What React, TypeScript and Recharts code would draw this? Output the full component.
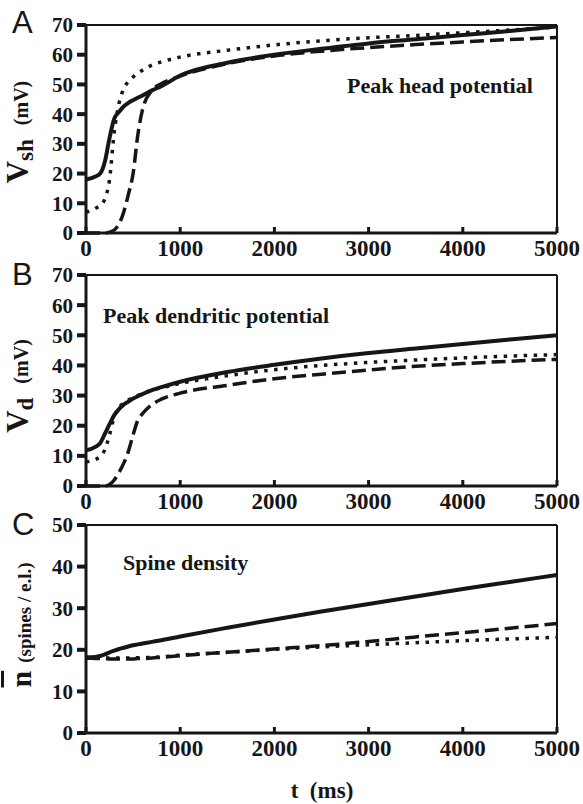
import React from "react";
import { LineChart, Line, XAxis, YAxis, ReferenceLine } from "recharts";

// time points (ms)
const times = [0, 100, 150, 200, 250, 300, 350, 400, 450, 500, 550, 600, 700, 800, 1000, 1500, 2000, 2500, 3000, 3500, 4000, 4500, 5000];

// A: peak head potential (mV)
const headSolid = [18, 19, 20, 24, 32, 38.5, 40.7, 42.6, 43.8, 44.7, 45.5, 46.3, 48, 49.4, 53, 57.3, 60, 62, 63.8, 65.2, 66.6, 68, 69.5];
const headDotted = [7, 8.3, 9.3, 11.5, 18, 34, 43.5, 48.5, 51, 52.5, 53.8, 54.8, 56.5, 57.6, 59.2, 61.5, 63.3, 64.7, 65.7, 66.5, 67.4, 68.3, 69.3];
const headDashed = [0, 0, 0, 0, 0.3, 1, 3, 7, 13, 20, 33, 41.5, 48, 50.2, 52.8, 57, 59.6, 61.2, 62.4, 63.4, 64.3, 65.1, 65.8];

// B: peak dendritic potential (mV)
const dendSolid = [11.8, 13, 14.2, 17.3, 20.5, 23.5, 25.5, 27, 28, 29, 29.8, 30.5, 31.8, 32.8, 34.6, 37.8, 40.2, 42.3, 44.1, 45.6, 47.1, 48.6, 50];
const dendDotted = [8, 8.8, 9.8, 12, 17, 23, 26, 27.5, 28.5, 29.3, 30, 30.7, 31.8, 32.6, 34, 36.6, 38.6, 40, 41, 41.8, 42.5, 43.1, 43.6];
const dendDashed = [0, 0, 0, 0, 0.5, 2, 4.5, 7.5, 11.5, 17, 21.8, 24, 27, 28.8, 30.8, 33.4, 35.6, 37.1, 38.5, 39.7, 40.6, 41.4, 42];

// C: spine density (spines / e.l.)
const densSolid = [18.2, 18.3, 18.5, 18.9, 19.4, 19.8, 20.2, 20.5, 20.8, 21.1, 21.3, 21.5, 21.9, 22.3, 23.2, 25.3, 27.3, 29.2, 31, 32.8, 34.6, 36.3, 38];
const densDotted = [18, 18, 18, 18, 18, 18, 18, 18, 18, 18, 18.1, 18.1, 18.2, 18.3, 18.7, 19.4, 20.1, 20.7, 21.2, 21.7, 22.2, 22.6, 23];
const densDashed = [18, 17.9, 17.9, 17.9, 17.8, 17.8, 17.8, 17.8, 17.8, 17.8, 17.9, 17.9, 18, 18.2, 18.6, 19.4, 20.2, 21, 22, 23.1, 24.1, 25.2, 26.3];

const xTicks = [0, 1000, 2000, 3000, 4000, 5000];
const vTicks = [0, 10, 20, 30, 40, 50, 60, 70];
const nTicks = [0, 10, 20, 30, 40, 50];

const INK = "#161616";
const SERIF = "'Liberation Serif', 'Times New Roman', serif";
const SANS = "'Liberation Sans', Arial, sans-serif";

const build = (s: number[], d: number[], k: number[]) =>
  times.map((t, i) => ({ t, solid: s[i], dotted: d[i], dashed: k[i] }));

function Panel({ data, yMax, yTicks, plotH }: { data: any[]; yMax: number; yTicks: number[]; plotH: number }) {
  return (
    <LineChart
      width={583}
      height={25 + plotH + 30}
      data={data}
      margin={{ top: 25, right: 26, bottom: 0, left: 0 }}
    >
      <XAxis
        dataKey="t"
        type="number"
        domain={[0, 5000]}
        ticks={xTicks}
        height={30}
        tickSize={-6}
        tickMargin={13}
        axisLine={{ stroke: INK, strokeWidth: 3 }}
        tickLine={{ stroke: INK, strokeWidth: 3 }}
        tick={{ fill: INK, fontSize: 23, fontWeight: "bold", fontFamily: SERIF }}
        interval={0}
      />
      <YAxis
        type="number"
        domain={[0, yMax]}
        ticks={yTicks}
        width={86}
        tickSize={9}
        tickMargin={4}
        axisLine={{ stroke: INK, strokeWidth: 3 }}
        tickLine={{ stroke: INK, strokeWidth: 4 }}
        tick={{ fill: INK, fontSize: 21, fontWeight: "bold", fontFamily: SERIF }}
        interval={0}
      />
      <ReferenceLine y={yMax} stroke={INK} strokeWidth={2} />
      <ReferenceLine x={5000} stroke={INK} strokeWidth={2} />
      <Line dataKey="dotted" type="monotone" stroke={INK} strokeWidth={3.5} strokeDasharray="3.5 6.5" dot={false} isAnimationActive={false} />
      <Line dataKey="dashed" type="monotone" stroke={INK} strokeWidth={3.5} strokeDasharray="14 6" dot={false} isAnimationActive={false} />
      <Line dataKey="solid" type="monotone" stroke={INK} strokeWidth={4} dot={false} isAnimationActive={false} />
    </LineChart>
  );
}

const bold = { fontFamily: SERIF, fontWeight: "bold" as const, fill: INK };

export default function App() {
  return (
    <div style={{ position: "absolute", left: 0, top: 0, width: 583, height: 804, background: "#fff" }}>
      <div style={{ position: "absolute", left: 0, top: 0 }}>
        <Panel data={build(headSolid, headDotted, headDashed)} yMax={70} yTicks={vTicks} plotH={208} />
      </div>
      <div style={{ position: "absolute", left: 0, top: 250 }}>
        <Panel data={build(dendSolid, dendDotted, dendDashed)} yMax={70} yTicks={vTicks} plotH={211} />
      </div>
      <div style={{ position: "absolute", left: 0, top: 500 }}>
        <Panel data={build(densSolid, densDotted, densDashed)} yMax={50} yTicks={nTicks} plotH={208} />
      </div>
      <svg width={583} height={804} style={{ position: "absolute", left: 0, top: 0, pointerEvents: "none" }}>
        <text x={12} y={33} fontSize={31} fontFamily={SANS} fill={INK}>A</text>
        <text x={12} y={285} fontSize={31} fontFamily={SANS} fill={INK}>B</text>
        <text x={12} y={535} fontSize={31} fontFamily={SANS} fill={INK}>C</text>

        <text x={347} y={93} fontSize={22} {...bold}>Peak head potential</text>
        <text x={103} y={323} fontSize={22} {...bold}>Peak dendritic potential</text>
        <text x={123} y={570} fontSize={22} {...bold}>Spine density</text>

        <text transform="translate(28,132) rotate(-90)" textAnchor="middle" {...bold}>
          <tspan fontSize={31}>V</tspan>
          <tspan fontSize={23} dy={5}>sh</tspan>
          <tspan fontSize={20} dy={-5} dx={14}>(mV)</tspan>
        </text>
        <text transform="translate(28,386) rotate(-90)" textAnchor="middle" {...bold}>
          <tspan fontSize={31}>V</tspan>
          <tspan fontSize={23} dy={5}>d</tspan>
          <tspan fontSize={20} dy={-5} dx={14}>(mV)</tspan>
        </text>
        <text transform="translate(31,625) rotate(-90)" textAnchor="middle" {...bold}>
          <tspan fontSize={30} textDecoration="overline">n</tspan>
          <tspan fontSize={19} dx={8}>(spines / e.l.)</tspan>
        </text>

        <text x={322} y={798} fontSize={23} textAnchor="middle" {...bold} xmlSpace="preserve">t  (ms)</text>
      </svg>
    </div>
  );
}
